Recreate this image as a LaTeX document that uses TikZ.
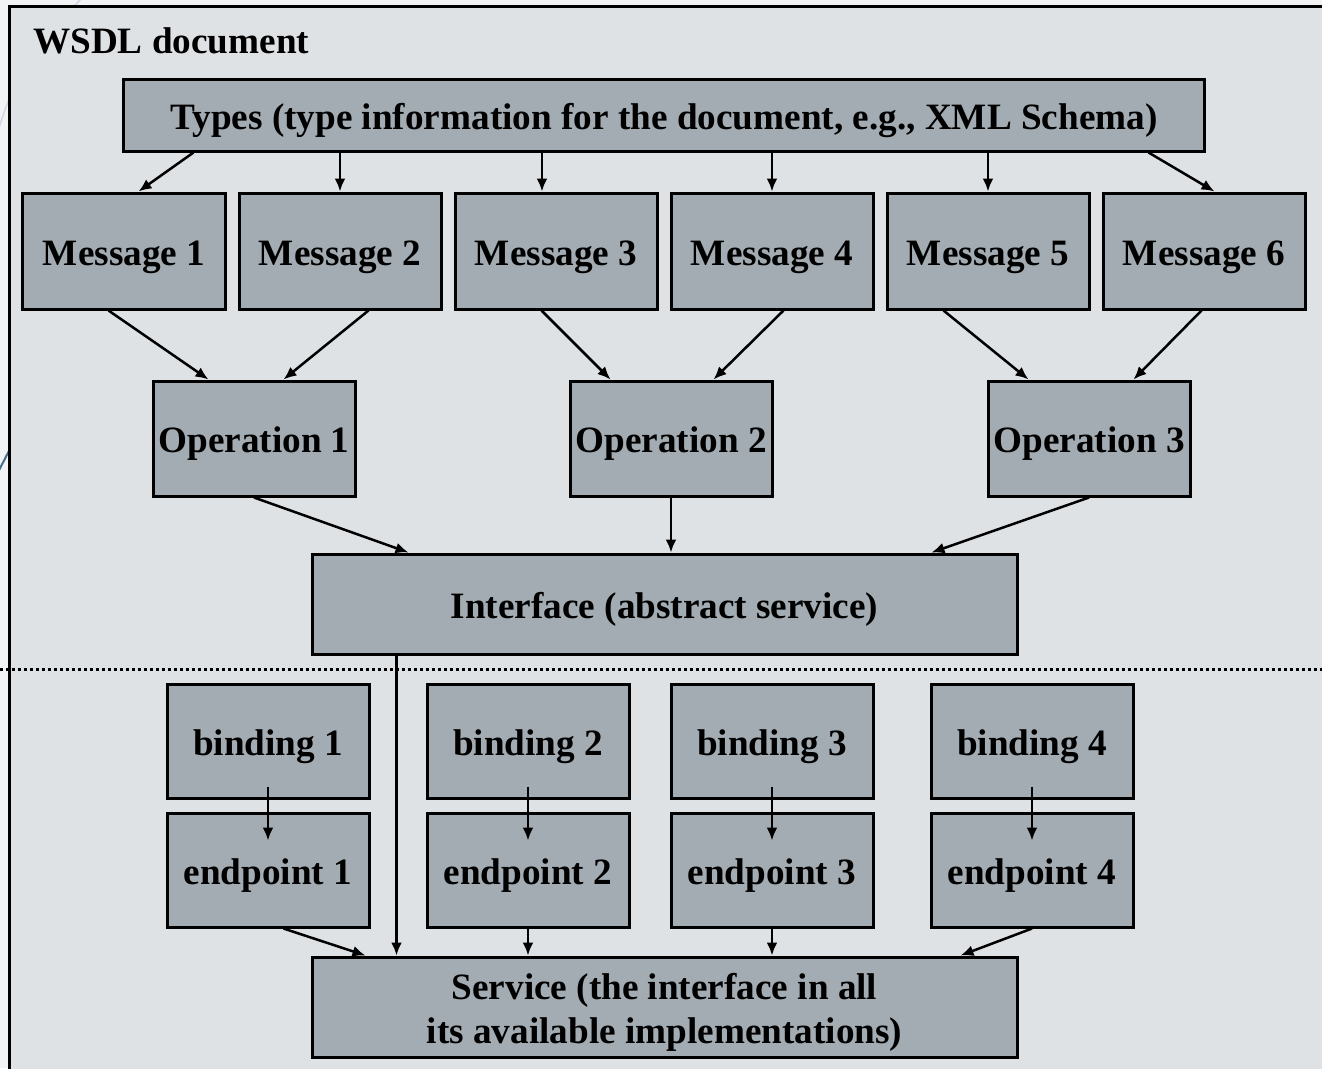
\documentclass[tikz,border=0pt]{standalone}
\usepackage{fontspec}
\setmainfont{Liberation Serif}
\usetikzlibrary{arrows.meta}
\definecolor{pagebg}{HTML}{F1F3F5}
\definecolor{panelbg}{HTML}{DFE2E5}
\definecolor{boxfill}{HTML}{A3ACB2}
\definecolor{decofaint}{HTML}{D2D6E2}
\definecolor{decoblue}{HTML}{46708C}

\begin{document}
\begin{tikzpicture}[x=1bp,y=-1bp,
  box/.style={draw=black, line width=3bp, fill=boxfill, inner sep=0pt,
    align=center, text height=28bp, text depth=0bp,
    font=\bfseries\fontsize{37.2bp}{44bp}\selectfont},
  msgbox/.style={box, minimum width=202bp, minimum height=116bp},
  opbox/.style={box, minimum width=202bp, minimum height=115bp},
  bindbox/.style={box, minimum width=202bp, minimum height=114bp},
  widebox/.style={box, minimum width=705bp, minimum height=100bp},
  arr/.style={-{Latex[length=13bp,width=11bp]}, line width=2.5bp},
  title/.style={inner sep=0pt, anchor=base west,
    font=\bfseries\fontsize{37.2bp}{44bp}\selectfont},
  ]
\useasboundingbox (0,0) rectangle (1322,1068);
\clip (0,0) rectangle (1322,1068);

% page background and slide decoration
\fill[pagebg] (0,0) rectangle (1322,1068);
\draw[decofaint, line width=1.5bp] (82,-2) .. controls (40,40) and (10,80) .. (-4,140);
\draw[decoblue, line width=2bp] (30,410) -- (-6,480);

% document panel
\fill[panelbg] (9,6) rectangle (1340,1080);
\draw[line width=3bp] (9,1080) -- (9,6) -- (1340,6);
\node[title] (doc) at (33,53) {WSDL document};

% types
\node[box, minimum width=1080bp, minimum height=72bp] (types) at (664,115)
  {Types (type information for the document, e.g., XML Schema)};

% messages
\node[msgbox] (m1) at (124,251) {Message 1};
\node[msgbox] (m2) at (340,251) {Message 2};
\node[msgbox] (m3) at (556,251) {Message 3};
\node[msgbox] (m4) at (772,251) {Message 4};
\node[msgbox] (m5) at (988,251) {Message 5};
\node[msgbox] (m6) at (1204,251) {Message 6};

% operations
\node[opbox] (op1) at (254,438.5) {Operation 1};
\node[opbox] (op2) at (671,438.5) {Operation 2};
\node[opbox] (op3) at (1089,438.5) {Operation 3};

% abstract interface
\node[widebox] (iface) at (664.5,604) {Interface (abstract service)};

% separator between abstract and concrete parts
\coordinate (sepl) at (0,669);
\coordinate (sepr) at (1322,669);
\draw[line width=3bp, dash pattern=on 3bp off 3bp] (sepl) -- (sepr);

% bindings and endpoints
\foreach \i/\x in {1/268, 2/528, 3/772, 4/1032} {
  \node[bindbox] (b\i) at (\x,741) {binding \i};
  \node[bindbox] (e\i) at (\x,870) {endpoint \i};
}

% service (two lines; baseline of the box sits on the last line)
\node[widebox, text height=75bp, text depth=2bp] (service) at (664.5,1007)
  {Service (the interface in all\\its available implementations)};

% types -> messages
\draw[arr] ([xshift=71bp]types.south west) -- ([xshift=117bp]m1.north west);
\draw[arr] (types.south -| m2.north) -- (m2.north);
\draw[arr] ([xshift=-14bp]types.south -| m3.north) -- ([xshift=-14bp]m3.north);
\draw[arr] (types.south -| m4.north) -- (m4.north);
\draw[arr] (types.south -| m5.north) -- (m5.north);
\draw[arr] ([xshift=-57bp]types.south east) -- ([xshift=113bp]m6.north west);

% messages -> operations
\draw[arr] ([xshift=87bp]m1.south west) -- ([xshift=57bp]op1.north west);
\draw[arr] ([xshift=131bp]m2.south west) -- ([xshift=132bp]op1.north west);
\draw[arr] ([xshift=88bp]m3.south west) -- ([xshift=42bp]op2.north west);
\draw[arr] ([xshift=114bp]m4.south west) -- ([xshift=145bp]op2.north west);
\draw[arr] ([xshift=58bp]m5.south west) -- ([xshift=42bp]op3.north west);
\draw[arr] ([xshift=100bp]m6.south west) -- ([xshift=147bp]op3.north west);

% operations -> interface
\draw[arr] (op1.south) -- ([xshift=98bp]iface.north west);
\draw[arr] (op2.south) -- (op2.south |- iface.north);
\draw[arr] (op3.south) -- ([xshift=621bp]iface.north west);

% interface -> service
\draw[arr] ([xshift=86bp]iface.south west) -- ([xshift=86bp]service.north west);

% bindings -> endpoints
\foreach \i in {1,...,4} {
  \draw[arr] ([yshift=13bp]b\i.south) -- ([yshift=-29bp]e\i.north);
}

% endpoints -> service
\draw[arr] ([xshift=118bp]e1.south west) -- ([xshift=55bp]service.north west);
\draw[arr] (e2.south) -- (e2.south |- service.north);
\draw[arr] (e3.south) -- (e3.south |- service.north);
\draw[arr] (e4.south) -- ([xshift=650bp]service.north west);
\end{tikzpicture}
\end{document}
